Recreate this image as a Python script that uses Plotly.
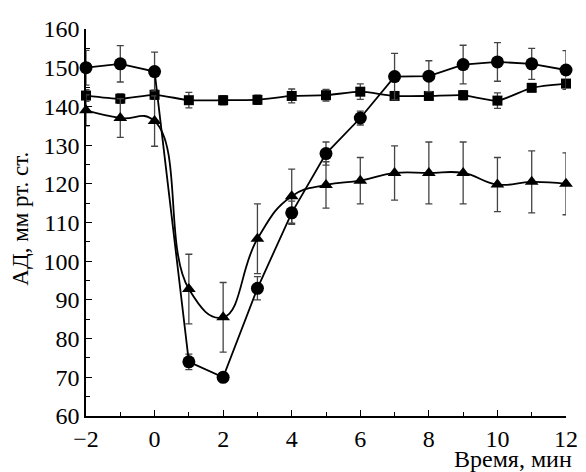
import plotly.graph_objects as go

time_min = [-2, -1, 0, 1, 2, 3, 4, 5, 6, 7, 8, 9, 10, 11, 12]

circle_vals = [150, 151, 149, 74, 70, 93, 112.5, 127.8, 137, 147.7, 147.8, 150.8, 151.5, 151, 149.4]
circle_err = [4.5, 4.7, 5, 2, 1.2, 3, 3, 3, 1.8, 6, 4, 5, 5, 4, 5]

square_vals = [142.8, 142, 143, 141.6, 141.6, 141.7, 142.7, 142.9, 143.8, 142.7, 142.7, 142.9, 141.5, 144.8, 145.9]
square_err = [1.5, 1.2, 1.2, 2, 1.2, 1.2, 1.8, 1.5, 2, 1, 1, 1.2, 2, 1, 1]

tri_vals = [139, 137, 136.2, 92.8, 85.5, 105.8, 116.8, 119.7, 120.8, 122.8, 122.8, 122.8, 119.8, 120.5, 120]
tri_err = [4, 5, 6.5, 9, 9, 9, 7, 6, 6, 7, 8, 8, 7, 8, 8]

x_ticks = [-2, 0, 2, 4, 6, 8, 10, 12]
x_tick_text = ["\u22122", "0", "2", "4", "6", "8", "10", "12"]
y_ticks = [60, 70, 80, 90, 100, 110, 120, 130, 140, 150, 160]

FONT = "Liberation Serif, Times New Roman, serif"


def err(arr):
    return dict(type="data", array=arr, visible=True, color="#444", thickness=1.3, width=3.5)


fig = go.Figure()
fig.add_trace(go.Scatter(
    x=time_min, y=square_vals, mode="lines+markers",
    line=dict(color="black", width=1.8, shape="spline", smoothing=0.6),
    marker=dict(symbol="square", size=10, color="black"),
    error_y=err(square_err), cliponaxis=False, showlegend=False))
fig.add_trace(go.Scatter(
    x=time_min, y=tri_vals, mode="lines+markers",
    line=dict(color="black", width=1.8, shape="spline", smoothing=1.3),
    marker=dict(symbol="triangle-up", size=12, color="black"),
    error_y=err(tri_err), cliponaxis=False, showlegend=False))
fig.add_trace(go.Scatter(
    x=time_min, y=circle_vals, mode="lines+markers",
    line=dict(color="black", width=1.8),
    marker=dict(symbol="circle", size=13, color="black"),
    error_y=err(circle_err), cliponaxis=False, showlegend=False))

fig.update_layout(
    width=578, height=464,
    margin=dict(l=78, r=13, t=8, b=56),
    paper_bgcolor="white", plot_bgcolor="white",
    font=dict(family=FONT, size=24, color="black"),
    xaxis=dict(range=[-2, 12], tickvals=x_ticks, ticktext=x_tick_text,
               ticks="inside", ticklen=6, tickwidth=1.3, tickcolor="black",
               showline=True, linecolor="black", linewidth=1.5,
               showgrid=False, zeroline=False, ticklabeloverflow="allow",
               minor=dict(tickvals=[-1, 1, 3, 5, 7, 9, 11], ticks="inside", ticklen=4,
                          tickwidth=1.2, tickcolor="black"),
               tickfont=dict(family=FONT, size=24)),
    yaxis=dict(range=[60, 160], tickvals=y_ticks,
               ticks="inside", ticklen=6, tickwidth=1.3, tickcolor="black",
               showline=True, linecolor="black", linewidth=1.5,
               showgrid=False, zeroline=False, ticklabeloverflow="allow",
               minor=dict(tickvals=[65, 75, 85, 95, 105, 115, 125, 135, 145, 155], ticks="inside",
                          ticklen=4, tickwidth=1.2, tickcolor="black"),
               tickfont=dict(family=FONT, size=24)),
    annotations=[
        dict(text="Время, мин", xref="paper", yref="paper", x=1, y=0,
             xanchor="right", yanchor="middle", xshift=8, yshift=-43, showarrow=False,
             font=dict(family=FONT, size=24)),
        dict(text="АД, мм рт. ст.", xref="paper", yref="paper", x=0, y=0.51,
             xanchor="center", yanchor="middle", xshift=-65, textangle=-90, showarrow=False,
             font=dict(family=FONT, size=23)),
    ],
)

fig.write_html("out.html")
